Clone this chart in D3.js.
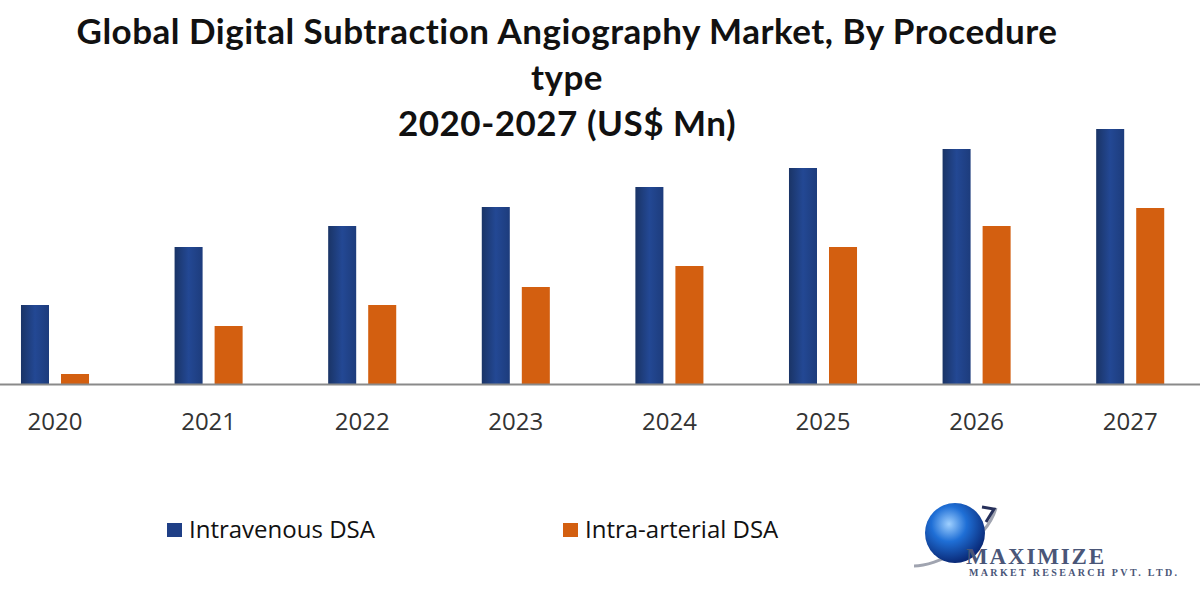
<!DOCTYPE html>
<html>
<head>
<meta charset="utf-8">
<script src="https://cdn.jsdelivr.net/npm/d3@7"></script>
<style>
  body { margin: 0; background: #fff; }
  svg { display: block; }
</style>
</head>
<body>
<div></div>
<script>
// chart data (no value axis shown)
const years = ["2020", "2021", "2022", "2023", "2024", "2025", "2026", "2027"];
const seriesNames = ["Intravenous DSA", "Intra-arterial DSA"];
const intravenous = [79, 137, 158, 177, 197, 216, 235, 255];
const intraArterial = [10, 58, 79, 97, 118, 137, 158, 176];
const titleLines = ["Global Digital Subtraction Angiography Market, By Procedure", "type", "2020-2027 (US$ Mn)"];

const width = 1200, height = 600;
const baseline = 384;

const svg = d3.select("body div")
    .append("svg")
    .attr("width", width)
    .attr("height", height);

// gradients for the bars and the logo
const defs = svg.append("defs");
const gBlue = defs.append("linearGradient").attr("id", "gBlue")
    .attr("x1", "0%").attr("x2", "100%").attr("y1", "0%").attr("y2", "0%");
gBlue.append("stop").attr("offset", "0%").attr("stop-color", "#1a3466");
gBlue.append("stop").attr("offset", "50%").attr("stop-color", "#234894");
gBlue.append("stop").attr("offset", "100%").attr("stop-color", "#1d3c7c");

const globe = defs.append("radialGradient").attr("id", "globe")
    .attr("cx", "40%").attr("cy", "35%").attr("r", "65%");
globe.append("stop").attr("offset", "0%").attr("stop-color", "#9fd0ff");
globe.append("stop").attr("offset", "45%").attr("stop-color", "#1f6fd6");
globe.append("stop").attr("offset", "100%").attr("stop-color", "#0a2a78");

// title
svg.append("g")
    .selectAll("text")
    .data(titleLines)
    .join("text")
    .attr("x", 567)
    .attr("y", (d, i) => 44 + i * 46)
    .attr("text-anchor", "middle")
    .style("font-family", "Lato, 'Open Sans', sans-serif")
    .style("font-weight", "bold")
    .style("font-size", "35px")
    .style("letter-spacing", "0.5px")
    .style("fill", "#111")
    .text(d => d);

// scales
const x0 = d3.scaleBand()
    .domain(years)
    .range([-21.8, -21.8 + 8 * 153.6])
    .paddingInner(0.557)
    .paddingOuter(0.2785);

const x1 = d3.scaleBand()
    .domain(seriesNames)
    .range([0, x0.bandwidth()])
    .paddingInner(0.3)
    .paddingOuter(0);

const y = d3.scaleLinear()
    .domain([0, 300])
    .range([baseline, baseline - 300]);

const color = d3.scaleOrdinal()
    .domain(seriesNames)
    .range(["url(#gBlue)", "#d35f10"]);
const legendColor = d3.scaleOrdinal()
    .domain(seriesNames)
    .range(["#1f3f86", "#d35f10"]);

const rows = years.map((yr, i) => ({
    year: yr,
    values: [
        { key: seriesNames[0], value: intravenous[i] },
        { key: seriesNames[1], value: intraArterial[i] }
    ]
}));

// bars
svg.append("g")
    .selectAll("g")
    .data(rows)
    .join("g")
    .attr("transform", d => `translate(${x0(d.year)},0)`)
    .selectAll("rect")
    .data(d => d.values)
    .join("rect")
    .attr("x", d => x1(d.key))
    .attr("width", x1.bandwidth())
    .attr("y", d => y(d.value))
    .attr("height", d => baseline - y(d.value))
    .style("fill", d => color(d.key));

// category axis
const xAxis = svg.append("g")
    .attr("transform", `translate(0,${baseline})`)
    .call(d3.axisBottom(x0).tickSize(0).tickPadding(29));
xAxis.select(".domain").remove();
xAxis.selectAll("text")
    .style("font-family", "'Open Sans', sans-serif")
    .style("font-size", "24px")
    .style("fill", "#333");
svg.append("line")
    .attr("x1", 0).attr("x2", width)
    .attr("y1", baseline + 0.5).attr("y2", baseline + 0.5)
    .style("stroke", "#8a8a8a")
    .style("stroke-width", 2);

// legend
const legendX = [167, 563];
const legend = svg.append("g")
    .selectAll("g")
    .data(seriesNames)
    .join("g")
    .attr("transform", (d, i) => `translate(${legendX[i]},523)`);
legend.append("rect")
    .attr("width", 15).attr("height", 14)
    .style("fill", d => legendColor(d));
legend.append("text")
    .attr("x", 22).attr("y", 15)
    .style("font-family", "'Open Sans', sans-serif")
    .style("font-size", "24px")
    .style("fill", "#111")
    .text(d => d);

// logo
const logo = svg.append("g");
logo.append("path")
    .attr("d", "M914,566 C935,566 985,545 996,508")
    .style("fill", "none").style("stroke", "#a0a4b0").style("stroke-width", 3);
logo.append("circle")
    .attr("cx", 955).attr("cy", 533).attr("r", 30)
    .style("fill", "url(#globe)");
logo.append("path")
    .attr("d", "M982,507 L994,509 L986,522")
    .style("fill", "none").style("stroke", "#26305a").style("stroke-width", 3);
logo.append("text")
    .attr("x", 966).attr("y", 564)
    .attr("textLength", 138)
    .style("font-family", "'Liberation Serif', serif")
    .style("font-weight", "bold")
    .style("font-size", "23px")
    .style("fill", "#4a5678")
    .text("MAXIMIZE");
logo.append("text")
    .attr("x", 969).attr("y", 576)
    .attr("textLength", 208)
    .style("font-family", "'Liberation Serif', serif")
    .style("font-weight", "bold")
    .style("font-size", "10px")
    .style("fill", "#4a5678")
    .text("MARKET RESEARCH PVT. LTD.");
</script>
</body>
</html>
